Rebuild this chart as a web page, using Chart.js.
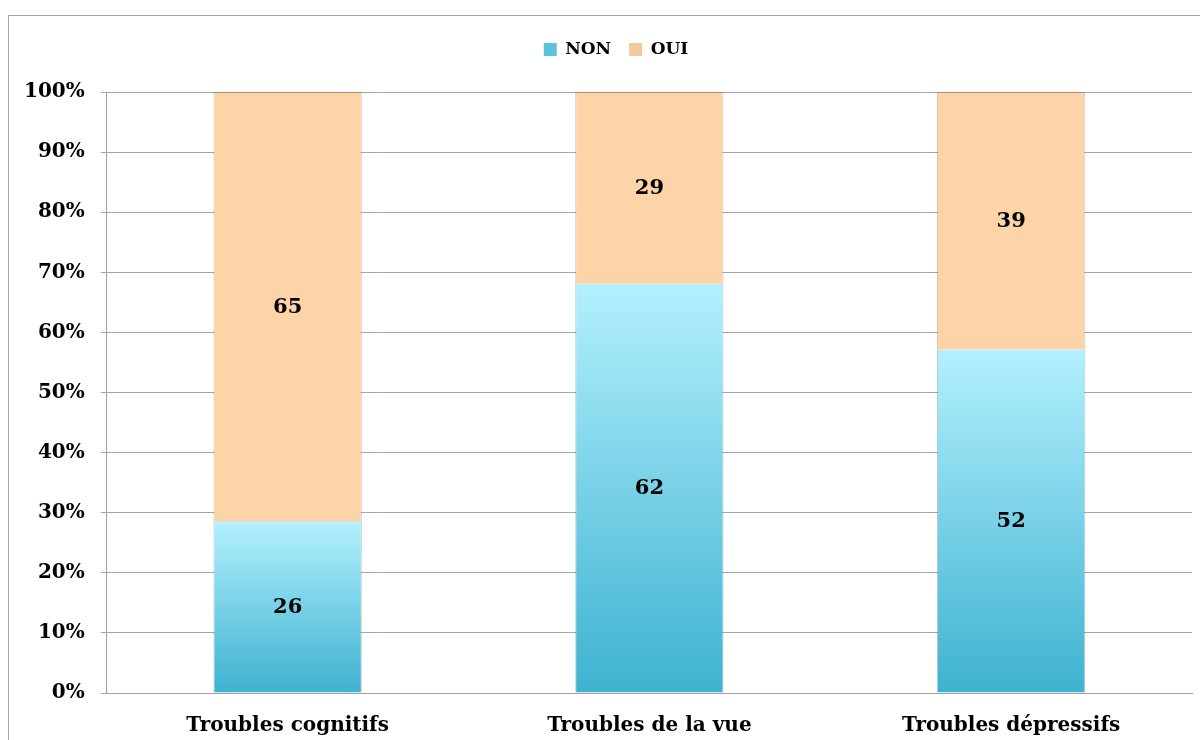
<!DOCTYPE html>
<html>
<head>
<meta charset="utf-8">
<script src="https://cdn.jsdelivr.net/npm/chart.js@4/dist/chart.umd.min.js"></script>
<style>
  html, body { margin: 0; padding: 0; background: #fff; }
  #wrap { position: relative; width: 1200px; height: 740px; overflow: hidden; }
  #frame { position: absolute; left: 8px; top: 15px; width: 1300px; height: 900px; border: 1px solid #a6a6a6; box-sizing: border-box; }
  canvas { position: absolute; left: 0; top: 0; }
</style>
</head>
<body>
<div id="wrap">
  <div id="frame"></div>
  <canvas id="myChart" width="1200" height="740"></canvas>
</div>
<script>
const categories = ["Troubles cognitifs", "Troubles de la vue", "Troubles dépressifs"];
const nonCounts = [26, 62, 52];
const ouiCounts = [65, 29, 39];
const yTicks = [0, 10, 20, 30, 40, 50, 60, 70, 80, 90, 100];

const serif = "'DejaVu Serif', 'Liberation Serif', serif";

// 100% stacked: percentages from counts
const totals = nonCounts.map((v, i) => v + ouiCounts[i]);
const nonPct = nonCounts.map((v, i) => v / totals[i] * 100);
const ouiPct = ouiCounts.map((v, i) => v / totals[i] * 100);

function barGradient(ctx, lo, hi, top, bottom) {
    const chart = ctx.chart;
    const area = chart.chartArea;
    if (!area) return bottom;
    const y = chart.scales.y;
    const i = ctx.dataIndex;
    const g = chart.ctx.createLinearGradient(0, y.getPixelForValue(hi[i]), 0, y.getPixelForValue(lo[i]));
    g.addColorStop(0, top);
    g.addColorStop(1, bottom);
    return g;
}

const countLabels = {
    id: "countLabels",
    afterDatasetsDraw(chart) {
        const c = chart.ctx;
        c.save();
        c.font = "bold 21px " + serif;
        c.fillStyle = "#000";
        c.textAlign = "center";
        c.textBaseline = "middle";
        const counts = [nonCounts, ouiCounts];
        chart.data.datasets.forEach((ds, d) => {
            chart.getDatasetMeta(d).data.forEach((bar, i) => {
                const p = bar.getProps(["x", "y", "base"], true);
                c.fillText(counts[d][i], p.x, (p.y + p.base) / 2 + 1);
            });
        });
        c.restore();
    }
};

// extra room under the legend, and nudge it right a little
const legendSpace = {
    id: "legendSpace",
    beforeInit(chart) {
        const fit = chart.legend.fit;
        chart.legend.fit = function() {
            fit.bind(chart.legend)();
            this.height += 24;
        };
    },
    afterLayout(chart) {
        chart.legend.left += 16;
        chart.legend.right += 16;
    }
};

new Chart("myChart", {
    type: "bar",
    data: {
        labels: categories,
        datasets: [{
            label: "NON",
            data: nonPct,
            backgroundColor: ctx => barGradient(ctx, nonPct.map(() => 0), nonPct, "#b3f0fe", "#3eb2d0"),
            borderColor: "rgba(60,120,140,0.4)",
            borderWidth: 1,
            barPercentage: 0.82,
            categoryPercentage: 0.5
        }, {
            label: "OUI",
            data: ouiPct,
            backgroundColor: "#fdd4a7",
            borderColor: "rgba(150,110,70,0.4)",
            borderWidth: 1,
            barPercentage: 0.82,
            categoryPercentage: 0.5
        }]
    },
    options: {
        responsive: false,
        animation: false,
        layout: { padding: { left: 8, right: 8, top: 23, bottom: -19 } },
        plugins: {
            legend: {
                display: true,
                labels: {
                    boxWidth: 13,
                    boxHeight: 13,
                    padding: 18,
                    color: "#000",
                    font: { family: serif, size: 17, weight: "bold" },
                    generateLabels(chart) {
                        return [
                            { text: "NON", fillStyle: "#5cc3de", strokeStyle: "#5cc3de", lineWidth: 0, datasetIndex: 0 },
                            { text: "OUI", fillStyle: "#f3c99c", strokeStyle: "#f3c99c", lineWidth: 0, datasetIndex: 1 }
                        ];
                    }
                }
            },
            tooltip: { enabled: false }
        },
        scales: {
            x: {
                stacked: true,
                grid: { display: false, drawTicks: false },
                border: { color: "#a0a0a0", width: 1 },
                ticks: { color: "#000", padding: 21, font: { family: serif, size: 20, weight: "bold" } }
            },
            y: {
                stacked: true,
                min: 0,
                max: 100,
                afterBuildTicks(axis) { axis.ticks = yTicks.map(v => ({ value: v })); },
                grid: { color: "#a6a6a6", lineWidth: 1, tickLength: 6 },
                border: { color: "#a0a0a0", width: 1 },
                ticks: {
                    color: "#000",
                    padding: 16,
                    font: { family: serif, size: 20, weight: "bold" },
                    callback: v => v + "%"
                }
            }
        }
    },
    plugins: [countLabels, legendSpace]
});
</script>
</body>
</html>
